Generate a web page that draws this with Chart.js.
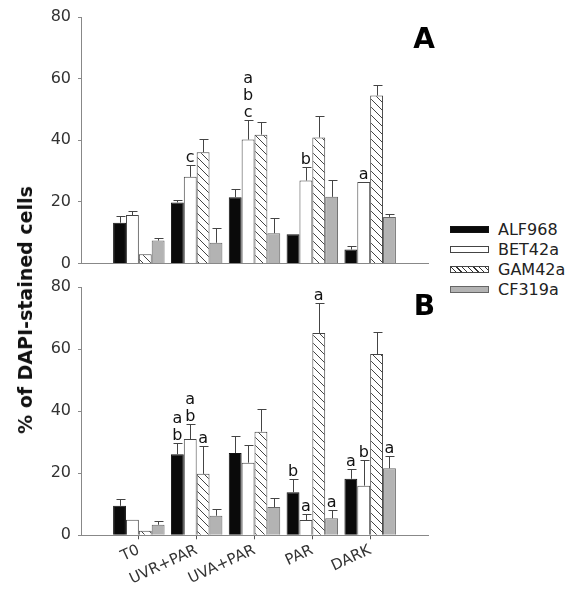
<!DOCTYPE html>
<html>
<head>
<meta charset="utf-8">
<script src="https://cdn.jsdelivr.net/npm/chart.js@4"></script>
<style>
    body { margin: 0; background: #fff; width: 579px; height: 601px; position: relative; overflow: hidden; font-family: "DejaVu Sans", sans-serif; }
    canvas { position: absolute; left: 0; }
    #chartA { top: 0; }
    #chartB { top: 270px; }
    #yTitle { position: absolute; left: 25px; top: 310px; transform: translate(-50%, -50%) rotate(-90deg); white-space: nowrap; font-weight: bold; font-size: 19px; color: #111; }
    #legend { position: absolute; left: 450px; top: 219px; }
    .legend-row { height: 20px; display: flex; align-items: center; font-size: 16px; color: #222; }
    .swatch { width: 37px; height: 5px; border: 1px solid #444; margin-right: 9px; }
</style>
</head>
<body>
<canvas id="chartA" width="440" height="280"></canvas>
<canvas id="chartB" width="440" height="331"></canvas>
<div id="yTitle">% of DAPI-stained cells</div>
<div id="legend"></div>
<script>
var categories = ["T0", "UVR+PAR", "UVA+PAR", "PAR", "DARK"];
var seriesNames = ["ALF968", "BET42a", "GAM42a", "CF319a"];
var yTicks = [0, 20, 40, 60, 80];

// panel A means and (upper) standard errors
var alfA = [13.2, 19.8, 21.5, 9.5, 4.5];
var betA = [15.7, 28.1, 40.2, 26.9, 26.4];
var gamA = [3.0, 36.1, 41.8, 40.9, 54.5];
var cfA = [7.4, 6.7, 9.8, 21.6, 15.1];
var alfErrA = [2.1, 0.7, 2.8, 0, 1.1];
var betErrA = [1.4, 3.8, 6.5, 4.3, 0];
var gamErrA = [0, 4.4, 4.1, 6.9, 3.5];
var cfErrA = [1.0, 4.7, 4.9, 5.6, 1.0];
var alfLetA = ["", "", "", "", ""];
var betLetA = ["", "c", "abc", "b", "a"];
var gamLetA = ["", "", "", "", ""];
var cfLetA = ["", "", "", "", ""];

// panel B
var alfB = [9.5, 26.1, 26.5, 13.9, 18.2];
var betB = [5.0, 31.0, 23.4, 4.9, 16.0];
var gamB = [1.5, 19.8, 33.4, 65.2, 58.4];
var cfB = [3.4, 6.3, 9.1, 5.5, 21.6];
var alfErrB = [2.1, 3.6, 5.6, 4.2, 3.1];
var betErrB = [0, 4.8, 5.8, 2.1, 8.2];
var gamErrB = [0, 9.0, 7.3, 9.5, 7.0];
var cfErrB = [1.1, 2.1, 3.0, 2.6, 3.8];
var alfLetB = ["", "ab", "", "b", "a"];
var betLetB = ["", "ab", "", "a", "b"];
var gamLetB = ["", "a", "", "a", ""];
var cfLetB = ["", "", "", "a", "a"];

// hatch used for GAM42a
function makeHatch() {
    var p = document.createElement("canvas");
    p.width = 8;
    p.height = 8;
    var c = p.getContext("2d");
    c.fillStyle = "#fff";
    c.fillRect(0, 0, 8, 8);
    c.strokeStyle = "#444";
    c.lineWidth = 1;
    c.beginPath();
    c.moveTo(-1, -1); c.lineTo(9, 9);
    c.moveTo(-1, 7); c.lineTo(1, 9);
    c.moveTo(7, -1); c.lineTo(9, 1);
    c.stroke();
    return c.createPattern(p, "repeat");
}
var hatch = makeHatch();
var fills = ["#0a0a0a", "#ffffff", hatch, "#b3b3b3"];
var borders = ["#111", "#444", "#444", "#666"];

// pad the axis with an empty slot on each side
function padded(arr) {
    return [null].concat(arr, [null]);
}

var labels = [""].concat(categories, [""]);

var errorBarPlugin = {
    id: "errorBars",
    afterDatasetsDraw: function (chart) {
        var ctx = chart.ctx;
        var yScale = chart.scales.y;
        ctx.save();
        chart.data.datasets.forEach(function (ds, i) {
            var meta = chart.getDatasetMeta(i);
            meta.data.forEach(function (bar, j) {
                var v = ds.data[j];
                if (v === null) return;
                var err = ds.errors[j];
                var top = bar.y;
                if (err > 0) {
                    top = yScale.getPixelForValue(v + err);
                    var x = Math.round(bar.x) + 0.5;
                    ctx.strokeStyle = "#444";
                    ctx.lineWidth = 1;
                    ctx.beginPath();
                    ctx.moveTo(x, bar.y);
                    ctx.lineTo(x, Math.round(top) + 0.5);
                    ctx.moveTo(x - 4, Math.round(top) + 0.5);
                    ctx.lineTo(x + 5, Math.round(top) + 0.5);
                    ctx.stroke();
                }
                var txt = ds.letters[j];
                if (txt) {
                    ctx.fillStyle = "#111";
                    ctx.font = "16px 'DejaVu Sans'";
                    ctx.textAlign = "center";
                    ctx.textBaseline = "alphabetic";
                    var n = txt.length;
                    for (var k = 0; k < n; k++) {
                        ctx.fillText(txt[k], bar.x, top - 3 - 17 * (n - 1 - k));
                    }
                }
            });
        });
        ctx.restore();
    }
};

var panelLabelPlugin = {
    id: "panelLabel",
    afterDraw: function (chart, args, opts) {
        var ctx = chart.ctx;
        ctx.save();
        ctx.fillStyle = "#000";
        ctx.font = "bold 28px 'DejaVu Sans'";
        ctx.textAlign = "right";
        ctx.fillText(opts.text, opts.x, opts.y);
        ctx.restore();
    }
};

function buildDatasets(values, errors, letters) {
    return seriesNames.map(function (name, i) {
        return {
            label: name,
            data: padded(values[i]),
            errors: padded(errors[i]),
            letters: padded(letters[i]),
            backgroundColor: fills[i],
            borderColor: borders[i],
            borderWidth: 1
        };
    });
}

function makeChart(canvasId, datasets, showLabels, panel) {
    return new Chart(document.getElementById(canvasId), {
        type: "bar",
        data: { labels: labels, datasets: datasets },
        plugins: [errorBarPlugin, panelLabelPlugin],
        options: {
            responsive: false,
            animation: false,
            layout: { padding: { top: 17, right: 12, left: 0, bottom: 0 } },
            datasets: { bar: { categoryPercentage: 0.89, barPercentage: 1.0 } },
            plugins: {
                legend: { display: false },
                tooltip: { enabled: false },
                panelLabel: panel
            },
            scales: {
                x: {
                    offset: false,
                    grid: {
                        offset: false,
                        drawOnChartArea: false,
                        drawTicks: showLabels,
                        tickLength: 4,
                        tickColor: function (c) { return c.tick && c.tick.label ? "#555" : "rgba(0,0,0,0)"; }
                    },
                    border: { color: "#888", width: 1 },
                    ticks: {
                        display: showLabels,
                        autoSkip: false,
                        minRotation: 25,
                        maxRotation: 25,
                        padding: 2,
                        color: "#333",
                        font: { family: "DejaVu Sans", size: 15 }
                    },
                    afterFit: function (s) { s.height = showLabels ? 65.7 : 13.3; }
                },
                y: {
                    min: 0,
                    max: 80,
                    afterBuildTicks: function (s) { s.ticks = yTicks.map(function (v) { return { value: v }; }); },
                    grid: { drawOnChartArea: false, tickLength: 3, tickColor: "#888" },
                    border: { color: "#888", width: 1 },
                    ticks: {
                        padding: 7,
                        color: "#333",
                        font: { family: "DejaVu Sans", size: 16 }
                    },
                    afterFit: function (s) { s.width = 81; }
                }
            }
        }
    });
}

makeChart("chartA",
    buildDatasets([alfA, betA, gamA, cfA], [alfErrA, betErrA, gamErrA, cfErrA], [alfLetA, betLetA, gamLetA, cfLetA]),
    false, { text: "A", x: 435, y: 48 });
makeChart("chartB",
    buildDatasets([alfB, betB, gamB, cfB], [alfErrB, betErrB, gamErrB, cfErrB], [alfLetB, betLetB, gamLetB, cfLetB]),
    true, { text: "B", x: 435, y: 45 });

// legend
var legend = document.getElementById("legend");
var swatchCss = [
    "background:#0a0a0a;border-color:#111",
    "background:#fff",
    "background:repeating-linear-gradient(45deg,#fff 0,#fff 3px,#333 3px,#333 4px)",
    "background:#b3b3b3;border-color:#666"
];
seriesNames.forEach(function (name, i) {
    var row = document.createElement("div");
    row.className = "legend-row";
    row.innerHTML = '<span class="swatch" style="' + swatchCss[i] + '"></span>' + name;
    legend.appendChild(row);
});
</script>
</body>
</html>
